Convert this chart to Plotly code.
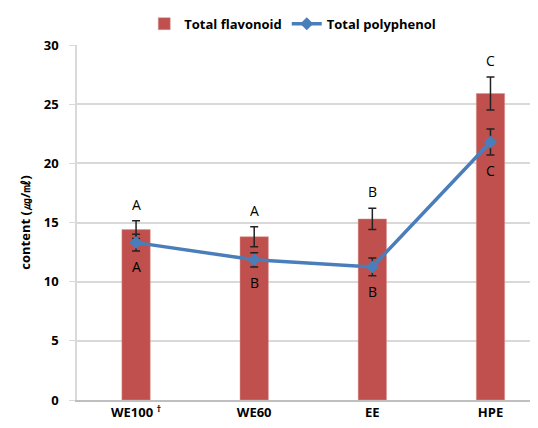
import plotly.graph_objects as go

categories = ["WE100 <sup>†</sup>", "WE60", "EE", "HPE"]
flavonoid = [14.4, 13.8, 15.3, 25.9]
flavonoid_err = [0.75, 0.85, 0.9, 1.4]
flavonoid_letters = ["A", "A", "B", "C"]
polyphenol = [13.3, 11.85, 11.25, 21.8]
polyphenol_err = [0.7, 0.6, 0.75, 1.1]
polyphenol_letters = ["A", "B", "B", "C"]
y_ticks = [0, 5, 10, 15, 20, 25, 30]

FONT = "Open Sans"
BAR = "#C0504D"
LINE = "#4A7EBB"

fig = go.Figure()
fig.add_trace(go.Bar(
    x=categories, y=flavonoid, name="Total flavonoid",
    marker=dict(color=BAR, line=dict(color="#D99694", width=0.5)), width=0.24,
    error_y=dict(type="data", array=flavonoid_err, color="#222222", thickness=1.5, width=4),
))
fig.add_trace(go.Scatter(
    x=categories, y=polyphenol, name="Total polyphenol", mode="lines+markers",
    line=dict(color=LINE, width=3.5), marker=dict(symbol="diamond", size=10, color=LINE),
    error_y=dict(type="data", array=polyphenol_err, color="#222222", thickness=1.5, width=4),
))

for c, v, e, t in zip(categories, flavonoid, flavonoid_err, flavonoid_letters):
    fig.add_annotation(x=c, y=v + e, text=t, showarrow=False, yanchor="bottom", yshift=5,
                       font=dict(family=FONT, size=14, color="black"))
for c, v, e, t in zip(categories, polyphenol, polyphenol_err, polyphenol_letters):
    fig.add_annotation(x=c, y=v - e, text=t, showarrow=False, yanchor="top", yshift=-4,
                       font=dict(family=FONT, size=14, color="black"))

fig.update_layout(
    width=538, height=428,
    margin=dict(l=69, r=0, t=37, b=36),
    plot_bgcolor="white", paper_bgcolor="white",
    font=dict(family=FONT, size=13, color="black"),
    showlegend=True,
    legend=dict(orientation="h", x=0.46, xanchor="center", y=1.06, yanchor="middle",
                font=dict(family=FONT, size=13, color="black", weight="bold"),
                itemwidth=30, traceorder="normal"),
    bargap=0.76,
)
fig.update_xaxes(
    range=[-0.5, 3.47], showgrid=False, showline=True, linecolor="#BFBFBF", linewidth=1.5,
    tickfont=dict(family=FONT, size=13, color="black", weight="bold"), ticks="",
)
fig.update_yaxes(
    range=[0, 30], tickvals=y_ticks, showgrid=True, gridcolor="#D9D9D9", gridwidth=1.5,
    showline=True, linecolor="#D9D9D9", linewidth=1.5, ticks="outside", ticklen=6,
    tickcolor="#D9D9D9", zeroline=False, ticklabelstandoff=8,
    tickfont=dict(family=FONT, size=13, color="black", weight="bold"),
    title=dict(text="content (㎍/㎖)", font=dict(family=FONT, size=13, color="black", weight="bold"),
               standoff=10),
)

fig.write_html("out.html")
